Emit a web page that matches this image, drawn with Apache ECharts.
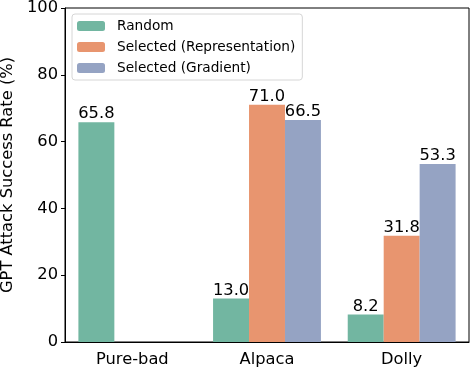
<!DOCTYPE html>
<html>
<head>
<meta charset="utf-8" />
<title></title>
<script type="text/javascript" src="https://cdn.jsdelivr.net/npm/echarts@6/dist/echarts.min.js"></script>
</head>
<body style="margin:0">
<div id="chart" style="width:472px;height:370px;"></div>
<script type="text/javascript">
var categories = ['Pure-bad', 'Alpaca', 'Dolly'];
var seriesNames = ['Random', 'Selected (Representation)', 'Selected (Gradient)'];
var randomVals = [65.8, 13.0, 8.2];
var reprVals = [null, 71.0, 31.8];
var gradVals = [null, 66.5, 53.3];
var yTicks = [0, 20, 40, 60, 80, 100];
var colors = ['#72b6a1', '#e8956f', '#95a3c3'];

var font = 'DejaVu Sans';
var fs = 16.3;
var chart = echarts.init(document.getElementById('chart'));

function makeSeries(name, vals, color) {
    return {
        name: name,
        type: 'bar',
        data: vals,
        barGap: '0%',
        barCategoryGap: '19.9%',
        itemStyle: { color: color },
        label: {
            show: true,
            position: 'top',
            distance: 0,
            color: '#000',
            fontSize: fs,
            fontFamily: font,
            formatter: function (p) { return p.value == null ? '' : p.value.toFixed(1); }
        }
    };
}

var option = {
    animation: false,
    backgroundColor: '#fff',
    color: colors,
    grid: {
        left: 65, right: 3, top: 8, bottom: 28,
        outerBoundsMode: 'none',
        containLabel: false,
        show: true, borderColor: '#000', borderWidth: 1
    },
    legend: {
        orient: 'vertical',
        left: 72, top: 14,
        data: seriesNames,
        itemWidth: 28, itemHeight: 10, itemGap: 7,
        padding: [5, 7, 5, 5],
        borderColor: '#d6d6d6', borderWidth: 1, borderRadius: 3,
        backgroundColor: '#fff',
        textStyle: { fontFamily: font, fontSize: 13.7, color: '#000', padding: [0, 0, 0, 7] }
    },
    xAxis: {
        type: 'category',
        data: categories,
        axisLine: { lineStyle: { color: '#000' } },
        axisTick: { alignWithLabel: true, length: 4, lineStyle: { color: '#000' } },
        axisLabel: { fontFamily: font, fontSize: fs, color: '#000', margin: 10 }
    },
    yAxis: {
        type: 'value',
        min: yTicks[0], max: yTicks[yTicks.length - 1], interval: 20,
        name: 'GPT Attack Success Rate (%)',
        nameLocation: 'middle',
        nameGap: 47,
        nameTextStyle: { fontFamily: font, fontSize: fs, color: '#000' },
        splitLine: { show: false },
        axisLine: { show: true, lineStyle: { color: '#000' } },
        axisTick: { show: true, length: 4, lineStyle: { color: '#000' } },
        axisLabel: { fontFamily: font, fontSize: fs, color: '#000', margin: 7 }
    },
    series: [
        makeSeries(seriesNames[0], randomVals, colors[0]),
        makeSeries(seriesNames[1], reprVals, colors[1]),
        makeSeries(seriesNames[2], gradVals, colors[2])
    ]
};
chart.setOption(option);
</script>
</body>
</html>
